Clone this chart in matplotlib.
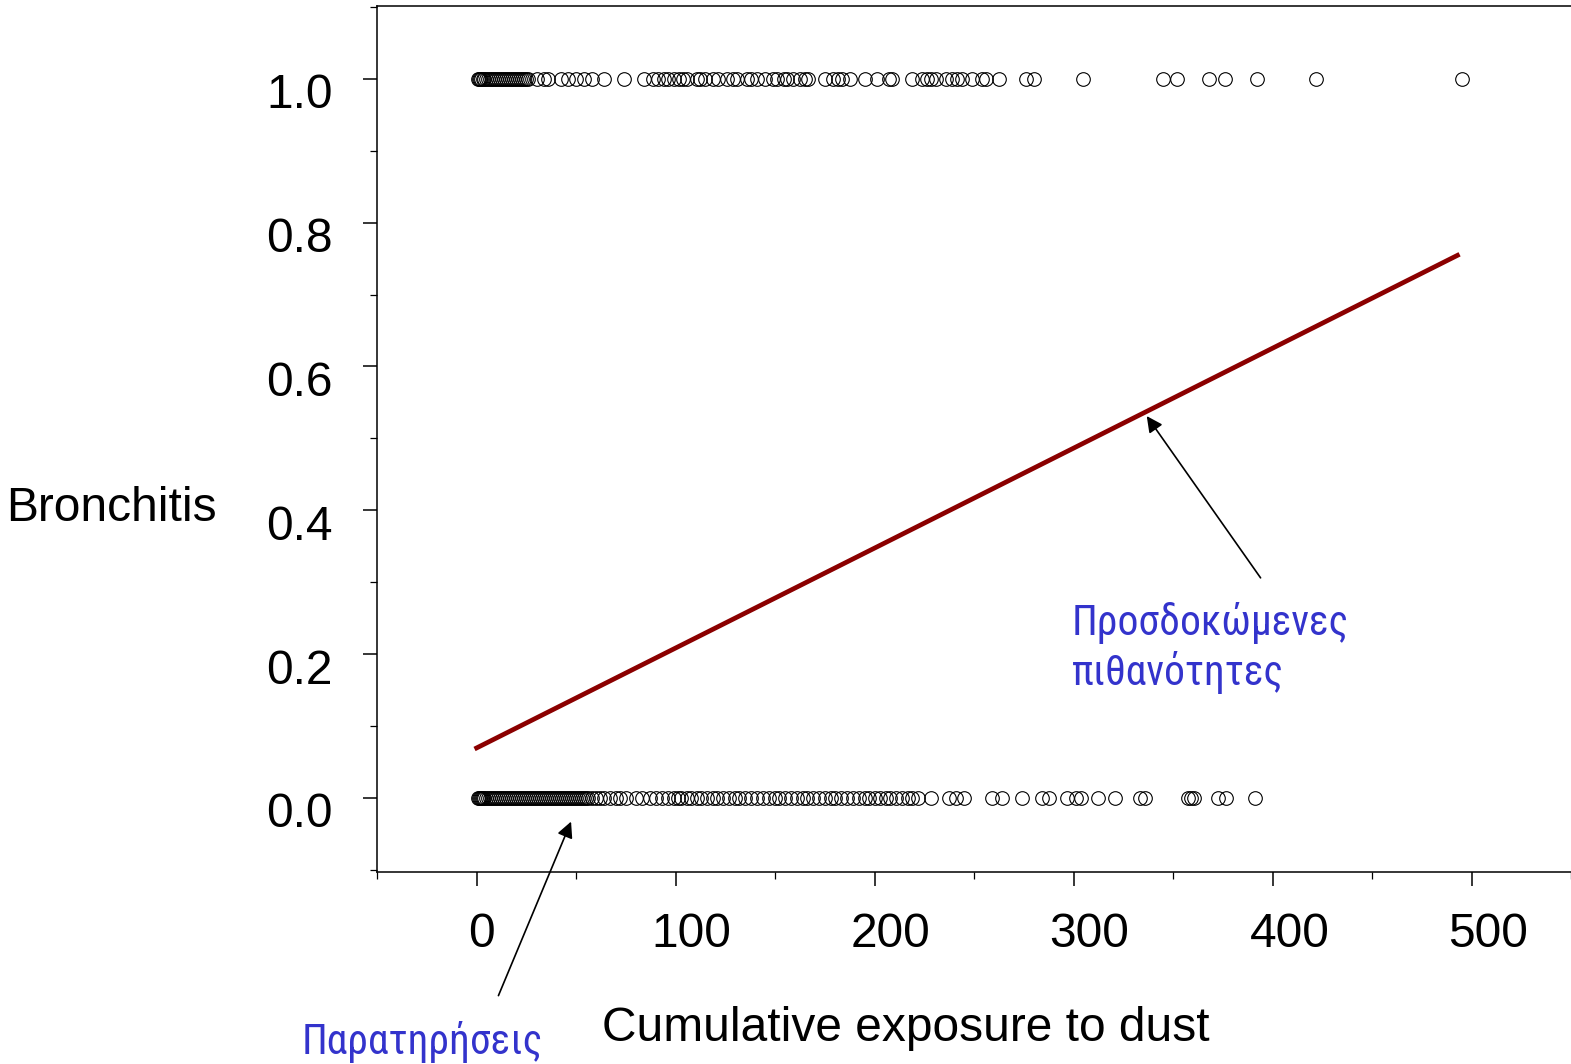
import numpy as np
import matplotlib.pyplot as plt
import matplotlib.transforms as mtransforms

# Cumulative exposure for subjects with bronchitis (y = 1)
exp_yes = [0.5, 1, 1.5, 2, 3, 4, 5, 6, 7, 8, 9, 10, 11, 12, 13, 14, 15, 16, 17, 18,
           19, 20, 21, 22, 23, 24, 25, 26, 30.5, 34, 36, 42.5, 46, 50, 54, 58, 64,
           74, 84, 88.5, 91, 94, 96, 99, 101.5, 104, 106, 111, 112.5, 115, 119,
           121.5, 126, 129, 131, 136, 138, 141, 145, 149, 151, 154.5, 156, 159,
           162.5, 165, 166.5, 175, 179, 181.5, 183.5, 187.5, 195, 201, 207.5, 209,
           219, 224, 226.5, 228.5, 231, 236, 239, 241.5, 244, 249, 254, 256, 262.5,
           276, 280, 305, 345, 352, 368, 376, 392, 422, 495]

# Cumulative exposure for subjects without bronchitis (y = 0)
exp_no = [0.5, 1, 1.5, 2, 2.5, 3, 4, 5, 6, 7, 8, 9, 10, 11, 12, 13, 14, 15, 16, 17,
          18, 19, 20, 21, 22, 23, 24, 25, 26, 27, 28, 29, 30, 31, 32, 33, 34, 35,
          36, 37, 38, 39, 40, 41, 42, 43, 44, 45, 46, 47, 48, 49, 50, 51, 52, 53,
          54, 55, 56, 58, 60, 62, 64, 67, 70, 72, 75, 80, 83, 87, 90, 93, 96, 99,
          101, 103, 106, 108, 111, 113, 116, 119, 121, 124, 127, 130, 132, 135,
          138, 141, 144, 147, 150, 152, 155, 158, 161, 164, 166, 169, 172, 175,
          178, 180, 183, 186, 189, 192, 195, 197, 200, 203, 206, 208, 211, 214,
          217, 219, 222, 228.5, 237.5, 241, 245, 259, 264, 274, 284, 287.5, 296.5,
          301, 304, 312.5, 321, 333.5, 336, 357.5, 359, 360.5, 372.5, 376.5, 391]

# Fitted (linear) probabilities at the two ends of the exposure range
fit_x = [-1, 494]
fit_p = [0.068, 0.756]

x_ticks = [0, 100, 200, 300, 400, 500]
y_ticks = [0.0, 0.2, 0.4, 0.6, 0.8, 1.0]

plt.rcParams["font.family"] = ["Liberation Sans", "DejaVu Sans"]
fig = plt.figure(figsize=(15.71, 10.64), dpi=100)
ax = fig.add_axes([0.24, 0.1805, 0.76, 0.814])

# observations
ax.plot(exp_yes, np.ones(len(exp_yes)), 'o', mfc='none', mec='black',
        ms=9.8, mew=0.8, linestyle='none')
ax.plot(exp_no, np.zeros(len(exp_no)), 'o', mfc='none', mec='black',
        ms=9.8, mew=0.8, linestyle='none')

# fitted line
ax.plot(fit_x, fit_p, color='#8b0000', linewidth=3.4, solid_capstyle='butt')

ax.set_xlim(-49, 549)
ax.set_ylim(-0.103, 1.1015)

ax.set_xticks(x_ticks)
ax.set_xticklabels([str(v) for v in x_ticks])
ax.set_yticks(y_ticks)
ax.set_yticklabels([f"{v:.1f}" for v in y_ticks])
ax.set_xticks([-50, 50, 150, 250, 350, 450, 550], minor=True)
ax.set_yticks([-0.1, 0.1, 0.3, 0.5, 0.7, 0.9, 1.1], minor=True)

ax.tick_params(axis='both', which='major', length=10, width=1.1,
               labelsize=34.5, direction='out')
ax.tick_params(axis='y', which='major', pad=22)
ax.tick_params(axis='x', which='major', pad=19)
ax.tick_params(axis='both', which='minor', length=5, width=0.9, direction='out')

# shift tick labels like in the original figure
dy = mtransforms.ScaledTranslation(0, -0.12, fig.dpi_scale_trans)
for lab in ax.yaxis.get_majorticklabels():
    lab.set_transform(lab.get_transform() + dy)
x_shift = [0.05, 0.16, 0.16, 0.16, 0.17, 0.17]
for lab, s in zip(ax.xaxis.get_majorticklabels(), x_shift):
    lab.set_transform(lab.get_transform()
                      + mtransforms.ScaledTranslation(s, 0, fig.dpi_scale_trans))

for side in ['left', 'bottom', 'top']:
    ax.spines[side].set_linewidth(1.1)
ax.spines['right'].set_visible(False)

ax.set_xlabel('Cumulative exposure to dust', fontsize=34.5, va='center')
ax.xaxis.set_label_coords(0.443, -0.181)
ax.set_ylabel('Bronchitis', fontsize=34.5, rotation=0, ha='left', va='center')
ax.yaxis.set_label_coords(-0.3105, 0.42)

blue = '#3333cc'
greek = ["Roboto Condensed", "Liberation Sans Narrow", "Liberation Sans"]
ax.text(299, 0.272, 'Προσδοκώμενες\nπιθανότητες', fontsize=30, color=blue,
        ha='left', va='top', family=greek, linespacing=1.2)
ax.annotate('', xy=(336.8, 0.531), xytext=(394, 0.306),
            arrowprops=dict(arrowstyle='-|>', color='black', lw=1.2,
                            mutation_scale=24, shrinkA=0, shrinkB=0))

ax.text(-27, -0.34, 'Παρατηρήσεις', fontsize=30, color=blue,
        ha='center', va='center', family=greek)
ax.annotate('', xy=(47.5, -0.033), xytext=(11, -0.275),
            arrowprops=dict(arrowstyle='-|>', color='black', lw=1.2,
                            mutation_scale=24, shrinkA=0, shrinkB=0),
            annotation_clip=False)

fig.savefig('out.png', dpi=100)
